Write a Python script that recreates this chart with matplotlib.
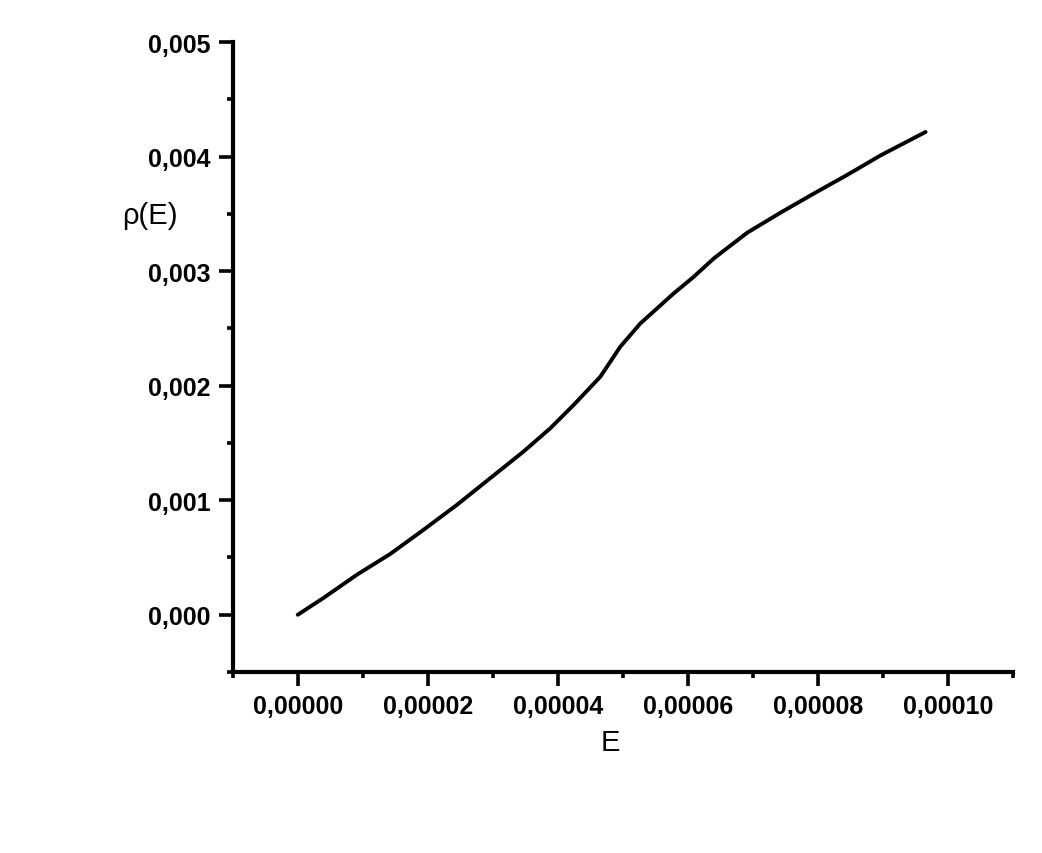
import matplotlib
matplotlib.use("Agg")
import matplotlib.pyplot as plt
from matplotlib.ticker import MultipleLocator, FuncFormatter

# --- Data ---
energy = [0.0, 3.94e-6, 9.08e-6, 14.2e-6, 19.32e-6, 24.46e-6, 29.58e-6, 34.71e-6,
          38.82e-6, 42.40e-6, 46.51e-6, 48.05e-6, 49.58e-6, 52.66e-6, 57.78e-6,
          60.86e-6, 63.94e-6, 69.08e-6, 74.2e-6, 79.32e-6, 84.46e-6, 89.58e-6,
          96.51e-6]
rho = [0.0, 0.146e-3, 0.349e-3, 0.530e-3, 0.741e-3, 0.959e-3, 1.192e-3, 1.425e-3,
       1.628e-3, 1.831e-3, 2.078e-3, 2.209e-3, 2.340e-3, 2.543e-3, 2.805e-3,
       2.950e-3, 3.110e-3, 3.335e-3, 3.510e-3, 3.677e-3, 3.840e-3, 4.010e-3,
       4.215e-3]

plt.rcParams['font.family'] = ['Liberation Sans', 'DejaVu Sans']

fig = plt.figure(figsize=(10.42, 8.54), dpi=100)
ax = fig.add_axes([0.2233, 0.2119, 0.7492, 0.7377])

ax.plot(energy, rho, color='black', linewidth=2.8,
        solid_capstyle='round', solid_joinstyle='round')

ax.set_xlim(-0.00001, 0.00011)
ax.set_ylim(-0.0005, 0.005)

ax.spines['top'].set_visible(False)
ax.spines['right'].set_visible(False)
for side in ('left', 'bottom'):
    ax.spines[side].set_linewidth(3.0)

ax.xaxis.set_minor_locator(MultipleLocator(0.00001))
ax.yaxis.set_minor_locator(MultipleLocator(0.0005))
ax.set_xticks([0, 0.00002, 0.00004, 0.00006, 0.00008, 0.0001])
ax.set_yticks([0, 0.001, 0.002, 0.003, 0.004, 0.005])

ax.xaxis.set_major_formatter(FuncFormatter(lambda v, p: f"{v:.5f}".replace('.', ',')))
ax.yaxis.set_major_formatter(FuncFormatter(lambda v, p: f"{v:.3f}".replace('.', ',')))

ax.tick_params(which='major', direction='out', length=10, width=2.6, labelsize=18, pad=6)
ax.tick_params(which='minor', direction='out', length=4, width=2.6)
for lab in ax.get_xticklabels() + ax.get_yticklabels():
    lab.set_fontweight('bold')

fig.text(610 / 1042, 1 - 743 / 854, 'E', fontsize=21, ha='center', va='center')
fig.text(150 / 1042, 1 - 216 / 854, 'ρ(E)', fontsize=21, ha='center', va='center')

fig.savefig('out.png', dpi=100, facecolor='white')
